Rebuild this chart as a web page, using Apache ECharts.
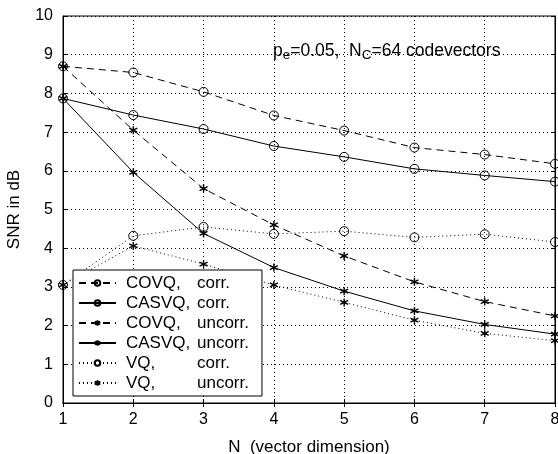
<!DOCTYPE html>
<html><head><meta charset="utf-8">
<script src="https://cdn.jsdelivr.net/npm/echarts@6/dist/echarts.min.js"></script>
<style>html,body{margin:0;padding:0;background:#fff}#c{width:558px;height:454px}</style>
</head><body><div id="c"></div>
<script>
const dims = [1, 2, 3, 4, 5, 6, 7, 8];
const covqCorr     = [8.70, 8.54, 8.04, 7.43, 7.04, 6.60, 6.42, 6.18];
const casvqCorr    = [7.87, 7.44, 7.08, 6.64, 6.36, 6.05, 5.88, 5.72];
const covqUncorr   = [8.70, 7.05, 5.54, 4.60, 3.80, 3.13, 2.62, 2.25];
const casvqUncorr  = [7.87, 5.96, 4.38, 3.50, 2.89, 2.38, 2.03, 1.78];
const vqCorr       = [3.05, 4.32, 4.55, 4.37, 4.44, 4.28, 4.36, 4.16];
const vqUncorr     = [3.05, 4.06, 3.59, 3.05, 2.60, 2.14, 1.80, 1.61];
const seriesNames = ['COVQ,   corr.', 'CASVQ, corr.', 'COVQ,   uncorr.', 'CASVQ, uncorr.', 'VQ,       corr.', 'VQ,       uncorr.'];
const legendA = ['COVQ,', 'CASVQ,', 'COVQ,', 'CASVQ,', 'VQ,', 'VQ,'];
const legendB = ['corr.', 'corr.', 'uncorr.', 'uncorr.', 'corr.', 'uncorr.'];
const yTicks = [0,1,2,3,4,5,6,7,8,9,10];

const FONT = '"Liberation Sans", Arial, sans-serif';
const star = 'path://M0,-5L0,5M-4.33,-2.5L4.33,2.5M-4.33,2.5L4.33,-2.5';
const dashT = [7, 5];
const dotT = [1, 3];

function mk(i, vals, isCircle, lineType) {
  return {
    name: seriesNames[i], type: 'line',
    data: dims.map((d, k) => [d, vals[k]]),
    symbol: isCircle ? 'circle' : star,
    symbolSize: isCircle ? 9 : 8,
    showSymbol: true,
    lineStyle: { color: '#000', width: 1, type: lineType },
    itemStyle: { color: isCircle ? 'rgba(0,0,0,0)' : '#000', borderColor: '#000', borderWidth: isCircle ? 1 : 1.4 },
    emphasis: { disabled: true },
    animation: false,
    z: 3
  };
}

const chart = echarts.init(document.getElementById('c'));
chart.setOption({
  backgroundColor: '#fff',
  animation: false,
  textStyle: { fontFamily: FONT },
  grid: { left: 63, right: 3, top: 16, bottom: 51, show: true, borderColor: '#000', borderWidth: 1, containLabel: false, outerBoundsMode: 'none' },
  xAxis: [{
    type: 'value', min: 1, max: 8, interval: 1,
    name: 'N  (vector dimension)', nameLocation: 'middle', nameGap: 36,
    nameTextStyle: { fontSize: 17, color: '#000', fontFamily: FONT },
    axisLine: { show: true, lineStyle: { color: '#000', width: 1 } },
    axisTick: { show: true, inside: true, length: 4, lineStyle: { color: '#000' } },
    axisLabel: { fontSize: 16, color: '#000', fontFamily: FONT, margin: 9, showMaxLabel: true },
    splitLine: { show: true, lineStyle: { color: '#000', type: dotT, width: 1 } }
  }, {
    type: 'value', min: 1, max: 8, interval: 1, position: 'top',
    axisLine: { show: true, lineStyle: { color: '#000' } },
    axisTick: { show: true, inside: true, length: 4, lineStyle: { color: '#000' } },
    axisLabel: { show: false }, splitLine: { show: false }
  }],
  yAxis: [{
    type: 'value', min: yTicks[0], max: yTicks[yTicks.length - 1], interval: 1,
    name: 'SNR in dB', nameLocation: 'middle', nameGap: 40,
    nameTextStyle: { fontSize: 17, color: '#000', fontFamily: FONT },
    axisLine: { show: true, lineStyle: { color: '#000', width: 1 } },
    axisTick: { show: true, inside: true, length: 4, lineStyle: { color: '#000' } },
    axisLabel: { fontSize: 16, color: '#000', fontFamily: FONT, margin: 10 },
    splitLine: { show: true, lineStyle: { color: '#000', type: dotT, width: 1 } }
  }, {
    type: 'value', min: yTicks[0], max: yTicks[yTicks.length - 1], interval: 1, position: 'right',
    axisLine: { show: true, lineStyle: { color: '#000' } },
    axisTick: { show: true, inside: true, length: 4, lineStyle: { color: '#000' } },
    axisLabel: { show: false }, splitLine: { show: false }
  }],
  legend: {
    orient: 'vertical', left: 73, top: 270,
    backgroundColor: '#fff', borderColor: '#000', borderWidth: 1,
    padding: [3, 13, 3, 5],
    itemWidth: 37, itemHeight: 7, itemGap: 0,
    selectedMode: false,
    data: seriesNames,
    formatter: function (name) {
      const i = seriesNames.indexOf(name);
      return '{a|' + legendA[i] + '}{b|' + legendB[i] + '}';
    },
    textStyle: {
      color: '#000', fontFamily: FONT, fontSize: 17, lineHeight: 20,
      rich: {
        a: { width: 71, fontSize: 17, lineHeight: 20, fontFamily: FONT, color: '#000', padding: [0, 0, 0, 5] },
        b: { fontSize: 17, lineHeight: 20, fontFamily: FONT, color: '#000' }
      }
    }
  },
  graphic: [{
    type: 'text', left: 273, top: 38, z: 10,
    style: {
      text: '{n|p}{s|e}{n|=0.05,  N}{s|C}{n|=64 codevectors}',
      fill: '#000', font: '17.5px ' + FONT,
      rich: {
        n: { fontSize: 17.5, fontFamily: FONT, fill: '#000', lineHeight: 20, verticalAlign: 'top' },
        s: { fontSize: 13.5, fontFamily: FONT, fill: '#000', lineHeight: 20, verticalAlign: 'bottom', padding: [10, 0, 0, 0] }
      }
    }
  }],
  series: [
    mk(0, covqCorr, true, dashT),
    mk(1, casvqCorr, true, 'solid'),
    mk(2, covqUncorr, false, dashT),
    mk(3, casvqUncorr, false, 'solid'),
    mk(4, vqCorr, true, dotT),
    mk(5, vqUncorr, false, dotT)
  ]
});
</script>
</body></html>
